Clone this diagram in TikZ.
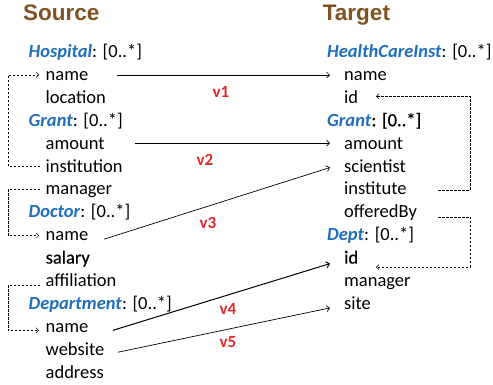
\documentclass[tikz,border=0pt]{standalone}
\usepackage{fontspec}
\setmainfont{Carlito}
\newfontfamily\titlefont{Liberation Sans}
\newfontfamily\heavyfont[FakeBold=0.5]{Carlito}
\usetikzlibrary{arrows.meta,calc}
\definecolor{srcbrown}{RGB}{128,82,32}
\definecolor{clsblue}{RGB}{30,110,190}
\definecolor{vred}{RGB}{228,40,40}
\newcommand{\cls}[1]{\textcolor{clsblue}{\textbf{\textit{#1}}}}
\begin{document}
\begin{tikzpicture}[x=1pt,y=-1pt,
  item/.style={anchor=base west,inner sep=0pt,font=\fontsize{18.5}{20}\selectfont},
  ttl/.style={anchor=base west,inner sep=0pt,font=\titlefont\bfseries\fontsize{22.5}{24}\selectfont,text=srcbrown},
  map/.style={-{Straight Barb[length=3pt,width=6pt]},line width=0.7pt},
  link/.style={dash pattern=on 2.5pt off 1.5pt,line width=0.5pt,-{Straight Barb[length=2.5pt,width=5pt]}},
  vlab/.style={inner sep=0pt,text=vred,font=\bfseries\fontsize{17}{18}\selectfont}]
\useasboundingbox (0,0) rectangle (493,384);
% titles
\node[ttl] (tsrc) at (23,20.7) {Source};
\node[ttl] (ttgt) at (322.7,20.7) {Target};
% source schema
\node[item] (hh) at (28.5,57.5) {\cls{Hospital}: [0..*]};
\node[item] (hn) at (45.5,80.4) {name};
\node[item] (hl) at (45.5,103.3) {location};
\node[item] (gh) at (28.5,126.2) {\cls{Grant}: [0..*]};
\node[item] (ga) at (45.5,149.1) {amount};
\node[item] (gi) at (45.5,172.0) {institution};
\node[item] (gm) at (45.5,194.9) {manager};
\node[item] (dh) at (28.5,217.8) {\cls{Doctor}: [0..*]};
\node[item] (dn) at (45.5,240.7) {name};
\node[item] (ds) at (45.5,263.6) {\heavyfont salary};
\node[item] (da) at (45.5,286.5) {affiliation};
\node[item] (ph) at (28.5,309.4) {\cls{Department}: [0..*]};
\node[item] (pn) at (45.5,332.3) {name};
\node[item] (pw) at (45.5,355.2) {website};
\node[item] (pa) at (45.5,378.1) {address};
% target schema
\node[item] (th) at (327,57.5) {\cls{HealthCareInst}: [0..*]};
\node[item] (tn) at (344,80.4) {name};
\node[item] (tid) at (344,103.3) {id};
\node[item] (tgh) at (327,126.2) {\cls{Grant}{\heavyfont: [0..*]}};
\node[item] (ta) at (344,149.1) {amount};
\node[item] (ts) at (344,172.0) {scientist};
\node[item] (tinst) at (344,194.9) {institute};
\node[item] (toff) at (344,217.8) {offeredBy};
\node[item] (tdh) at (327,240.7) {\cls{Dept}: [0..*]};
\node[item] (tdid) at (344,263.6) {\heavyfont id};
\node[item] (tdm) at (344,286.5) {manager};
\node[item] (tsite) at (344,309.4) {site};
% mappings
\draw[map] ($(hn.base west)+(71.5,-5.4)$) -- ($(tn.base west)+(-14,-5.4)$);
\draw[map] ($(ga.base west)+(89.5,-6)$) -- ($(ta.base west)+(-14,-6)$);
\draw[map] ($(dn.base west)+(58.5,-1.5)$) -- ($(ts.base west)+(-14,-4.5)$);
\draw[map,line width=1pt] ($(pn.base west)+(67.5,-2)$) -- ($(tdid.base west)+(-14,0)$);
\draw[map] ($(pw.base west)+(72.5,-3)$) -- ($(tsite.base west)+(-14,-1.5)$);
\node[vlab] (v1) at (221,92) {v1};
\node[vlab] (v2) at (205,160) {v2};
\node[vlab] (v3) at (208,223) {v3};
\node[vlab] (v4) at (228,309) {v4};
\node[vlab] (v5) at (228,342) {v5};
% references (dashed)
\draw[link] ($(gi.base west)+(-5.5,-6)$) -- ++(-32,0) |- ($(hn.base west)+(-6.5,-5.5)$);
\draw[link] ($(gm.base west)+(-5.5,-5.5)$) -- ++(-32,0) |- ($(dn.base west)+(-6.5,-5)$);
\draw[link] ($(da.base west)+(-5.5,-1.5)$) -- ++(-32,0) |- ($(pn.base west)+(-6.5,-2)$);
\draw[link] ($(tinst.base west)+(94,-5)$) -- ++(32,0) |- ($(tid.base west)+(32,-7)$);
\draw[link] ($(toff.base west)+(94,-1)$) -- ++(32,0) |- ($(tdid.base west)+(32,3.5)$);
\end{tikzpicture}
\end{document}
